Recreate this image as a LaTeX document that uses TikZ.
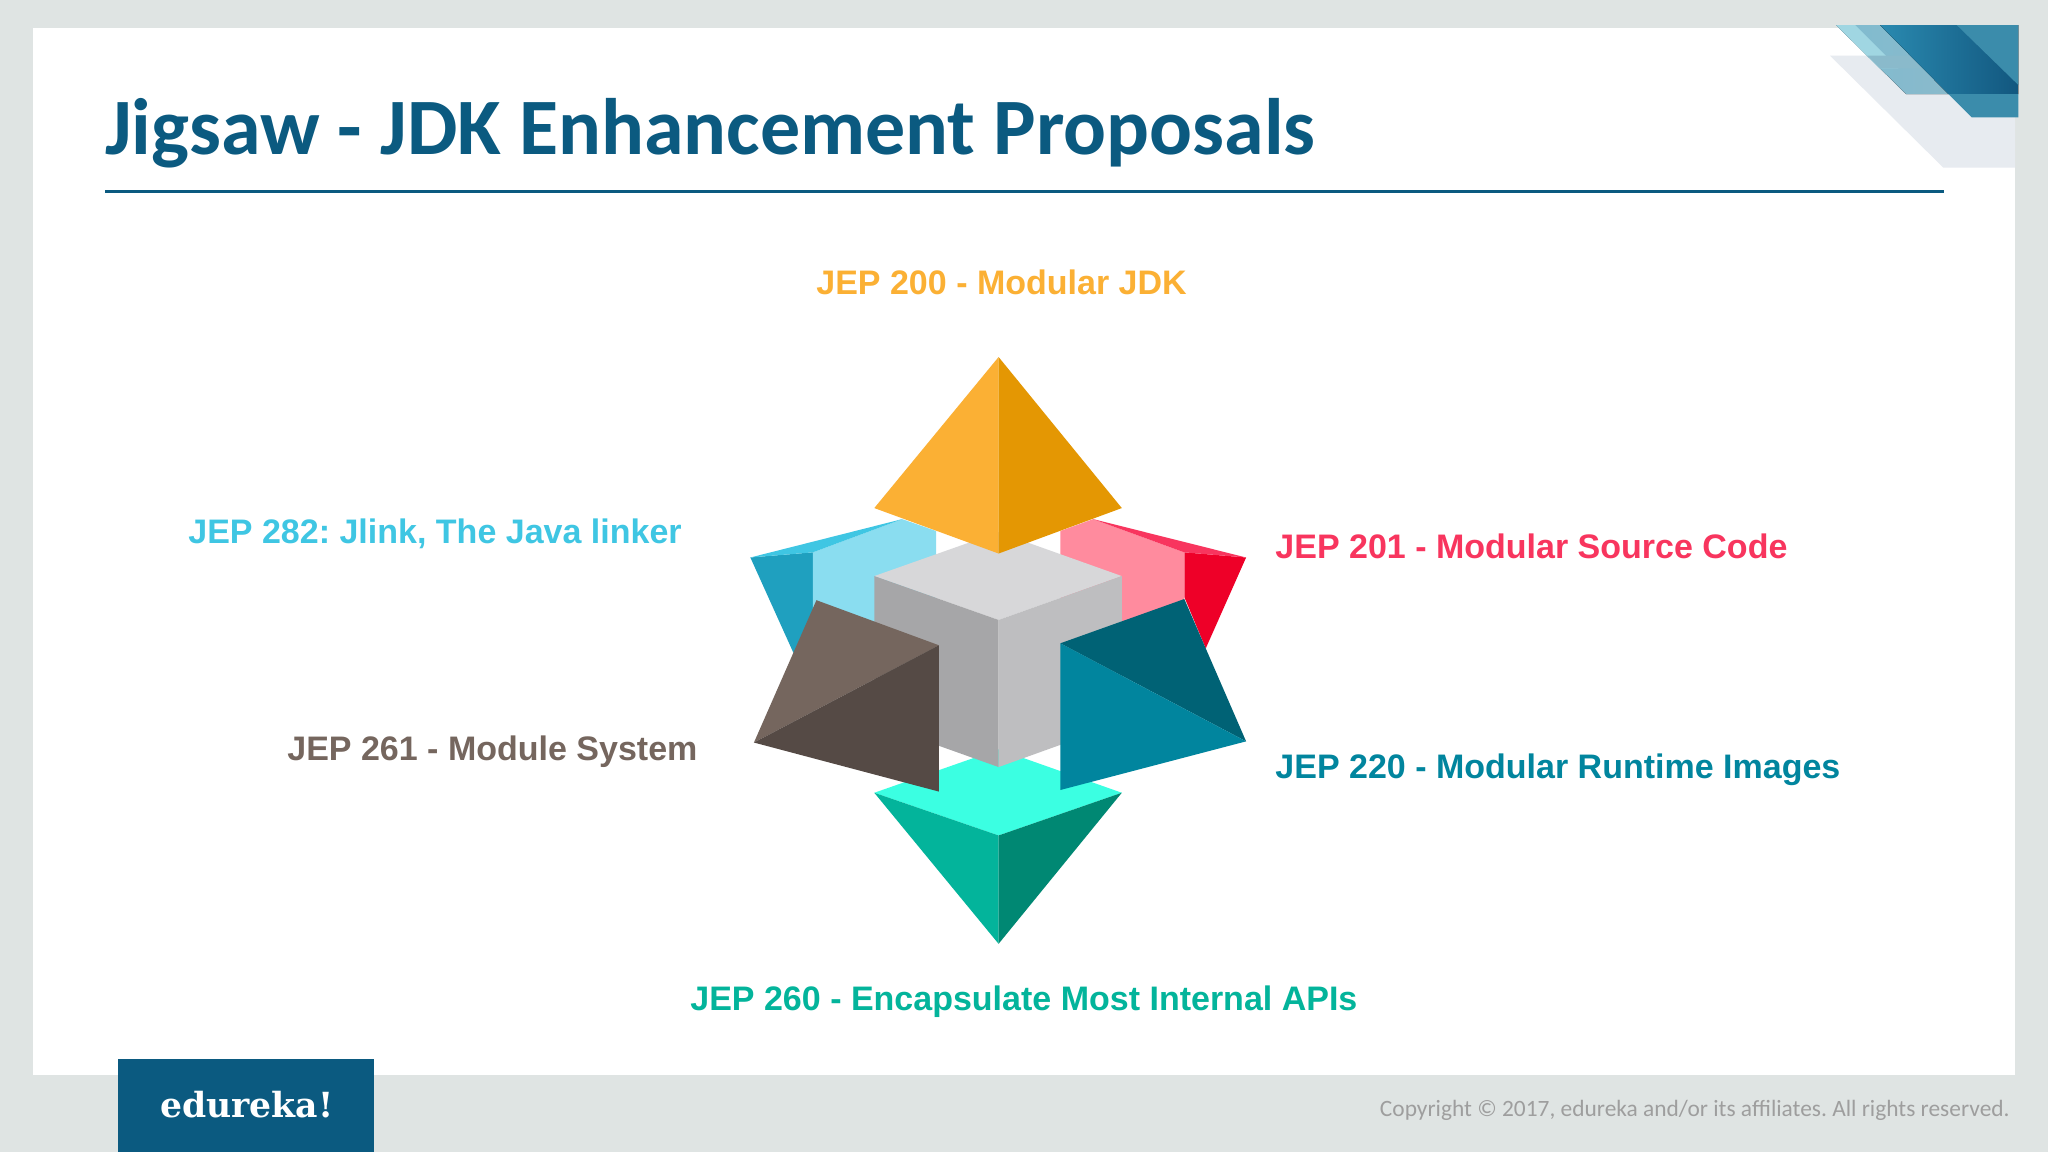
\documentclass[tikz,border=0pt]{standalone}
\usepackage{fontspec}
\setmainfont{Liberation Sans}
\newfontfamily\titlefont{Carlito}
\newfontfamily\logofont{DejaVu Serif}
\frenchspacing
\definecolor{pagegrey}{HTML}{DFE4E3}
\definecolor{navy}{HTML}{0B5A80}
\definecolor{cOrange}{HTML}{FBB034}
\definecolor{cOrangeD}{HTML}{E49703}
\definecolor{cBlue}{HTML}{3FC6E3}
\definecolor{cBlueL}{HTML}{8ADDF0}
\definecolor{cBlueD}{HTML}{1FA0BF}
\definecolor{cRed}{HTML}{F8355E}
\definecolor{cRedL}{HTML}{FF8B9E}
\definecolor{cRedD}{HTML}{EE0028}
\definecolor{cBrown}{HTML}{75665E}
\definecolor{cBrownD}{HTML}{554A45}
\definecolor{cTeal}{HTML}{01859E}
\definecolor{cTealD}{HTML}{006275}
\definecolor{cMint}{HTML}{3BFFE2}
\definecolor{cGreen}{HTML}{03B49B}
\definecolor{cGreenD}{HTML}{008873}
\definecolor{cubeTop}{HTML}{D7D7D9}
\definecolor{cubeL}{HTML}{A6A6A8}
\definecolor{cubeR}{HTML}{BEBEC0}
\definecolor{softGrey}{HTML}{E7EBF0}
\definecolor{bandA}{HTML}{A0D6E2}
\definecolor{bandB}{HTML}{7FBBD0}
\definecolor{bandC}{HTML}{8ABACB}
\definecolor{bandD}{HTML}{2A8AB0}
\definecolor{bandE}{HTML}{12577F}
\definecolor{bandF}{HTML}{3B8CAB}
\tikzset{
  lbl/.style={anchor=base west,inner sep=0pt,font=\fontsize{17}{20}\selectfont\bfseries},
}
\begin{document}
\begin{tikzpicture}[x=0.5pt,y=-0.5pt]
\useasboundingbox (0,0) rectangle (2048,1152);
\fill[pagegrey] (0,0) rectangle (2048,1152);
\fill[white] (33,28) rectangle (2015,1075);
% corner ornament
\begin{scope}[x=0.166667pt,y=-0.166667pt,shift={(890pt,0pt)}]
\fill[softGrey] (150,167) -- (490,503) -- (705,503) -- (705,167) -- cycle;
\fill[left color=bandB,right color=bandC] (168,75) -- (300,75) -- (505,282) -- (378,282) -- cycle;
\fill[bandA] (168,75) -- (225,75) -- (355,205) -- (298,205) -- cycle;
\fill[bandC] (262,167) -- (392,167) -- (430,205) -- (300,205) -- cycle;
\fill[left color=bandD,right color=bandE] (300,75) -- (715,75) -- (715,282) -- (505,282) -- cycle;
\fill[bandF] (530,75) -- (715,75) -- (715,255) -- cycle;
\fill[bandF] (505,282) -- (715,282) -- (715,352) -- (575,352) -- cycle;
\end{scope}
% title
\node[anchor=base west,inner sep=0pt,text=navy,font=\titlefont\fontsize{40}{48}\selectfont\bfseries] (title) at (105,154) {Jigsaw - JDK Enhancement Proposals};
\coordinate (ruleL) at (105,191);
\coordinate (ruleR) at (1944,191);
\draw[navy,line width=1.5pt] (ruleL) -- (ruleR);
% emblem
\begin{scope}[x=0.178571pt,y=-0.197704pt,shift={(360pt,-170pt)}]
\fill[cMint] (432,1145) -- (780,1035) -- (1125,1145) -- (780,1253) -- cycle;
\fill[cGreen] (432,1145) -- (780,1253) -- (780,1527) -- cycle;
\fill[cGreenD] (1125,1145) -- (780,1253) -- (780,1527) -- cycle;
\fill[cBlueD] (85,550) -- (260,537) -- (260,840) -- (205,790) -- cycle;
\fill[cBlueL] (260,537) -- (510,453) -- (605,483) -- (605,750) -- (260,750) -- cycle;
\fill[cBlue] (85,550) -- (510,453) -- (260,537) -- cycle;
\fill[cRedD] (1473,550) -- (1300,537) -- (1300,650) -- (1360,780) -- cycle;
\fill[cRedL] (1300,537) -- (1045,453) -- (953,483) -- (953,750) -- (1300,750) -- cycle;
\fill[cRed] (1473,550) -- (1045,453) -- (1300,537) -- cycle;
\fill[cubeTop] (432,597) -- (780,486) -- (1125,597) -- (780,708) -- cycle;
\fill[cubeL] (432,597) -- (780,708) -- (780,1080) -- (432,968) -- cycle;
\fill[cubeR] (1125,597) -- (780,708) -- (780,1080) -- (1125,968) -- cycle;
\fill[cOrange] (780,43) -- (432,425) -- (780,540) -- cycle;
\fill[cOrangeD] (780,43) -- (1125,425) -- (780,540) -- cycle;
\fill[cBrown] (270,658) -- (613,772) -- (95,1018) -- cycle;
\fill[cBrownD] (613,772) -- (613,1142) -- (95,1018) -- cycle;
\fill[cTealD] (1300,655) -- (1473,1015) -- (953,767) -- cycle;
\fill[cTeal] (953,767) -- (1473,1015) -- (953,1138) -- cycle;
\end{scope}
% labels
\node[lbl,text=cOrange] (j200) at (816,294.5) {JEP 200 - Modular JDK};
\node[lbl,text=cBlue] (j282) at (188,543.5) {JEP 282: Jlink, The Java linker};
\node[lbl,text=cRed] (j201) at (1275,558.5) {JEP 201 - Modular Source Code};
\node[lbl,text=cBrown] (j261) at (287,760) {JEP 261 - Module System};
\node[lbl,text=cTeal] (j220) at (1275,778.5) {JEP 220 - Modular Runtime Images};
\node[lbl,text=cGreen] (j260) at (690,1010.5) {JEP 260 - Encapsulate Most Internal APIs};
% footer
\fill[navy] (118,1059) rectangle (374,1152);
\node[anchor=base west,inner sep=0pt,text=white,font=\logofont\fontsize{17.3}{20}\selectfont\bfseries] (logo) at (160,1117) {edureka!};
\node[anchor=base east,inner sep=0pt,text=black!38,font=\titlefont\fontsize{11.7}{14}\selectfont] (copy) at (2010,1116) {Copyright © 2017, edureka and/or its affiliates. All rights reserved.};
\end{tikzpicture}
\end{document}
